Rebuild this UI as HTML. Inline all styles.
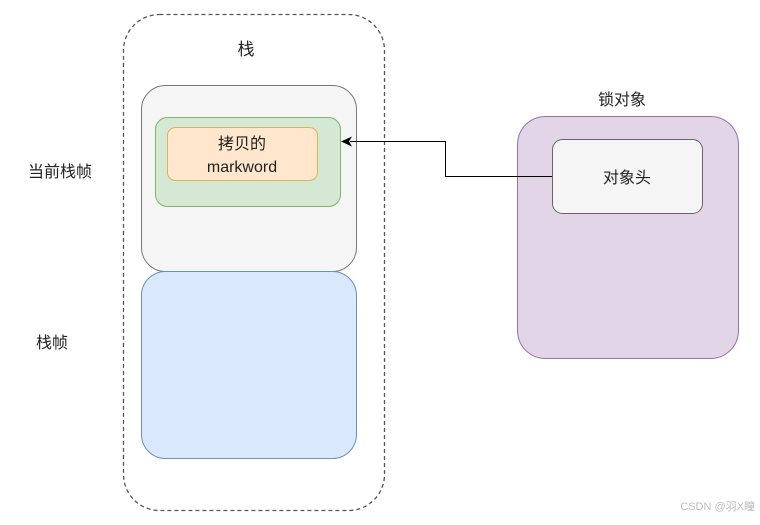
<!DOCTYPE html>
<html><head><meta charset="utf-8"><style>
body{margin:0;background:#fff;}
svg text{font-family:"Liberation Sans","Noto Sans CJK SC",sans-serif;fill:#222;}
</style></head><body>
<svg width="760" height="520" viewBox="0 0 760 520" xmlns="http://www.w3.org/2000/svg">
<rect x="123.5" y="14.5" width="261" height="496" rx="36" fill="none" stroke="#555" stroke-width="1.3" stroke-dasharray="4,3"/>
<text x="246" y="55" font-size="17" text-anchor="middle">栈</text>
<rect x="141.5" y="85.5" width="215" height="186" rx="24" fill="#f5f5f5" stroke="#777"/>
<rect x="155.5" y="117.5" width="185" height="89" rx="12" fill="#d5e8d4" stroke="#82b366"/>
<rect x="167.5" y="127.5" width="150" height="53" rx="8" fill="#ffe6cc" stroke="#d6b656"/>
<text x="242" y="149" font-size="16" text-anchor="middle">拷贝的</text>
<text x="242" y="172" font-size="16" text-anchor="middle">markword</text>
<rect x="141.5" y="271.5" width="215" height="187" rx="24" fill="#dae8fc" stroke="#6c8ebf"/>
<text x="28" y="177" font-size="16">当前栈帧</text>
<text x="36" y="348" font-size="16">栈帧</text>
<text x="622" y="105" font-size="16" text-anchor="middle">锁对象</text>
<rect x="517.5" y="116.5" width="221" height="242" rx="28" fill="#e1d5e7" stroke="#9673a6"/>
<rect x="552.5" y="139.5" width="150" height="74" rx="10" fill="#f5f5f5" stroke="#666"/>
<text x="627" y="183" font-size="16" text-anchor="middle" fill="#333">对象头</text>
<polyline points="552,176.5 445.5,176.5 445.5,141.5 350,141.5" fill="none" stroke="#000" stroke-width="1"/>
<polygon points="341,141.5 352,136.5 349,141.5 352,146.5" fill="#000"/>
<text x="755" y="510" font-size="11" text-anchor="end" fill="#bbb" style="fill:#bbb">CSDN @羽X瞳</text>
</svg>
</body></html>
